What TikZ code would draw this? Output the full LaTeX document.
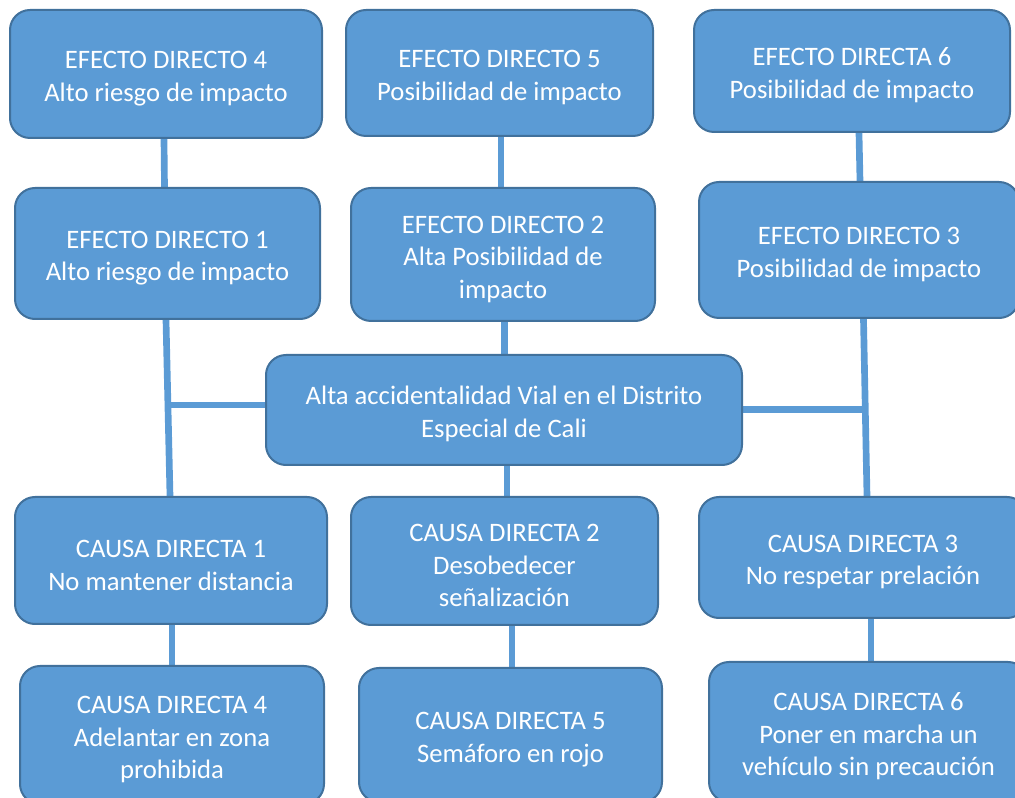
\documentclass[tikz,border=0pt]{standalone}
\usepackage{fontspec}
\setmainfont{Carlito}
\usetikzlibrary{calc,backgrounds}
\definecolor{boxfill}{HTML}{5B9BD5}
\definecolor{boxline}{HTML}{41719C}
\newcommand\topstrut{\rule{0pt}{20pt}}
\begin{document}
\begin{tikzpicture}[x=0.75pt,y=-0.75pt,
  box/.style={draw=boxline, line width=1.5pt, fill=boxfill, rounded corners=15pt,
    text=white, align=center, font=\fontsize{20}{24.4}\selectfont, inner sep=0pt},
  sz/.style 2 args={minimum width=#1*0.75pt, minimum height=#2*0.75pt},
  conn/.style={draw=boxfill, line width=5pt}]
\clip (0,0) rectangle (1015,798);
% nodes
\node[box, sz={312}{128}] (E4) at (166,74) {\topstrut EFECTO DIRECTO 4\\Alto riesgo de impacto};
\node[box, sz={307}{126}] (E5) at (499.5,73) {\topstrut EFECTO DIRECTO 5\\Posibilidad de impacto};
\node[box, sz={316}{122}] (E6) at (852,71) {\topstrut EFECTO DIRECTA 6\\Posibilidad de impacto};
\node[box, sz={305}{131}] (E1) at (167.5,253.5) {\topstrut EFECTO DIRECTO 1\\Alto riesgo de impacto};
\node[box, sz={304}{133}] (E2) at (503,254.5) {\topstrut EFECTO DIRECTO 2\\Alta Posibilidad de\\impacto};
\node[box, sz={320}{136}] (E3) at (859,250) {\topstrut EFECTO DIRECTO 3\\Posibilidad de impacto};
\node[box, sz={476}{110}] (M) at (504,410) {\topstrut Alta accidentalidad Vial en el Distrito\\Especial de Cali};
\node[box, sz={312}{127}] (C1) at (171,560.5) {\topstrut CAUSA DIRECTA 1\\No mantener distancia};
\node[box, sz={307}{128}] (C2) at (504.5,561) {\topstrut CAUSA DIRECTA 2\\Desobedecer\\señalización};
\node[box, sz={328}{121}] (C3) at (863,557.5) {\topstrut CAUSA DIRECTA 3\\No respetar prelación};
\node[box, sz={304}{138}] (C4) at (172,735) {\topstrut CAUSA DIRECTA 4\\Adelantar en zona\\prohibida};
\node[box, sz={303}{134}] (C5) at (510.5,735) {\topstrut CAUSA DIRECTA 5\\Semáforo en rojo};
\node[box, sz={319}{140}] (C6) at (868.5,732) {\topstrut CAUSA DIRECTA 6\\Poner en marcha un\\vehículo sin precaución};
\coordinate (J1) at (168,405);
\coordinate (J2) at (865,409.5);
% connectors
\begin{scope}[on background layer]
\draw[conn] ($(E4.south)+(-2,0)$) -- ($(E1.north)+(-3,0)$);
\draw[conn] ($(E5.south)+(1.5,0)$) -- ($(E2.north)+(-2,0)$);
\draw[conn] ($(E6.south)+(7,0)$) -- ($(E3.north)+(1,0)$);
\draw[conn] ($(E1.south)+(-1.5,0)$) -- ($(C1.north)+(-1,0)$);
\draw[conn] (J1) -- (J1 -| M.west);
\draw[conn] ($(E2.south)+(1.5,0)$) -- ($(M.north)+(0.5,0)$);
\draw[conn] ($(M.south)+(3,0)$) -- ($(C2.north)+(2.5,0)$);
\draw[conn] ($(E3.south)+(4.5,0)$) -- ($(C3.north)+(4,0)$);
\draw[conn] (M.east |- J2) -- (J2);
\draw[conn] ($(C1.south)+(1,0)$) -- (C4.north);
\draw[conn] ($(C2.south)+(7.5,0)$) -- ($(C5.north)+(1.5,0)$);
\draw[conn] ($(C3.south)+(8,0)$) -- ($(C6.north)+(2.5,0)$);
\end{scope}
\end{tikzpicture}
\end{document}
